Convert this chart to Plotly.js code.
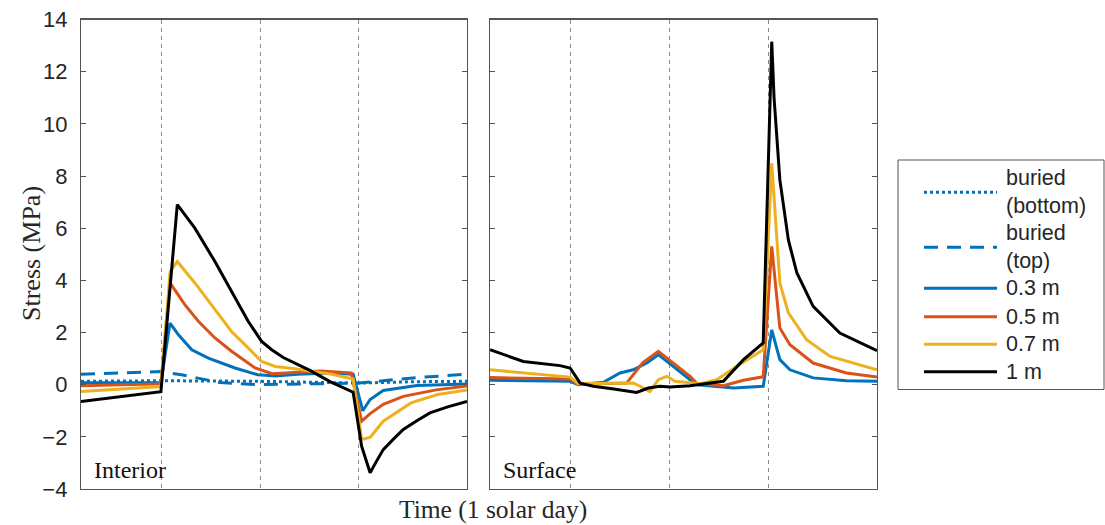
<!DOCTYPE html>
<html>
<head>
<meta charset="utf-8">
<script src="https://cdn.plot.ly/plotly-3.0.1.min.js"></script>
<style>
  html, body { margin: 0; padding: 0; background: #fff; }
  #chart { width: 1105px; height: 525px; }
</style>
</head>
<body>
<div id="chart"></div>
<script>
// Time is expressed as a fraction of one solar day.
const markerTimes = [0.209, 0.464, 0.719];
const stressTicks = [-4, -2, 0, 2, 4, 6, 8, 10, 12, 14];

// ---- Interior ----
const intBottomT = [0, 0.207, 0.46, 0.60, 0.72, 0.85, 1.0];
const intBottomS = [0.13, 0.15, 0.13, 0.10, 0.06, 0.11, 0.13];

const intTopT = [0, 0.207, 0.26, 0.36, 0.46, 0.60, 0.72, 0.86, 1.0];
const intTopS = [0.40, 0.50, 0.38, 0.08, 0.0, 0.02, 0.06, 0.26, 0.40];

const int03T = [0, 0.104, 0.207, 0.2306, 0.252, 0.287, 0.330, 0.399, 0.458, 0.505, 0.56, 0.65, 0.705, 0.730, 0.749, 0.783, 0.87, 1.0];
const int03S = [0.07, 0.07, 0.08, 2.36, 1.92, 1.34, 1.02, 0.64, 0.38, 0.33, 0.40, 0.45, 0.40, -1.0, -0.57, -0.22, -0.03, 0.03];

const int05T = [0, 0.104, 0.207, 0.2306, 0.269, 0.304, 0.347, 0.390, 0.451, 0.495, 0.55, 0.62, 0.700, 0.727, 0.75, 0.783, 0.835, 0.92, 1.0];
const int05S = [-0.04, 0.0, 0.03, 3.9, 3.07, 2.43, 1.79, 1.28, 0.64, 0.42, 0.46, 0.52, 0.45, -1.4, -1.1, -0.75, -0.45, -0.2, -0.05];

const int07T = [0, 0.104, 0.207, 0.231, 0.2495, 0.295, 0.347, 0.390, 0.433, 0.468, 0.503, 0.554, 0.65, 0.705, 0.727, 0.749, 0.783, 0.855, 0.924, 1.0];
const int07S = [-0.26, -0.16, -0.07, 4.34, 4.72, 3.9, 2.87, 2.04, 1.41, 0.89, 0.70, 0.61, 0.40, 0.22, -2.1, -2.02, -1.4, -0.7, -0.38, -0.2];

const int1T = [0, 0.104, 0.207, 0.2495, 0.295, 0.347, 0.390, 0.433, 0.468, 0.494, 0.524, 0.554, 0.593, 0.645, 0.705, 0.727, 0.749, 0.765, 0.783, 0.81, 0.835, 0.87, 0.904, 0.95, 1.0];
const int1S = [-0.65, -0.46, -0.27, 6.9, 6.0, 4.72, 3.57, 2.43, 1.66, 1.34, 1.04, 0.83, 0.55, 0.12, -0.29, -2.36, -3.38, -2.95, -2.49, -2.08, -1.72, -1.38, -1.08, -0.85, -0.64];

// ---- Surface ----
const srf03T = [0, 0.207, 0.228, 0.293, 0.336, 0.370, 0.405, 0.435, 0.517, 0.535, 0.63, 0.706, 0.728, 0.749, 0.775, 0.835, 0.921, 1.0];
const srf03S = [0.17, 0.13, 0.0, 0.09, 0.45, 0.57, 0.83, 1.15, 0.19, 0.0, -0.13, -0.06, 2.1, 0.96, 0.57, 0.26, 0.15, 0.13];

const srf05T = [0, 0.207, 0.228, 0.353, 0.395, 0.435, 0.517, 0.535, 0.603, 0.655, 0.706, 0.728, 0.749, 0.775, 0.835, 0.921, 1.0];
const srf05S = [0.27, 0.22, 0.02, 0.06, 0.85, 1.28, 0.32, 0.04, -0.04, 0.17, 0.3, 5.3, 2.17, 1.53, 0.83, 0.45, 0.29];

const srf07T = [0, 0.207, 0.228, 0.370, 0.388, 0.413, 0.435, 0.457, 0.478, 0.543, 0.586, 0.637, 0.706, 0.728, 0.749, 0.771, 0.818, 0.879, 1.0];
const srf07S = [0.57, 0.29, 0.04, 0.06, -0.06, -0.26, 0.19, 0.32, 0.13, 0.04, 0.19, 0.7, 1.34, 8.49, 3.9, 2.75, 1.72, 1.08, 0.57];

const srf1T = [0, 0.086, 0.181, 0.207, 0.233, 0.267, 0.32, 0.379, 0.409, 0.439, 0.465, 0.517, 0.603, 0.655, 0.706, 0.728, 0.734, 0.749, 0.771, 0.793, 0.835, 0.904, 1.0];
const srf1S = [1.34, 0.89, 0.73, 0.64, 0.06, -0.06, -0.17, -0.3, -0.13, -0.06, -0.09, -0.04, 0.13, 0.96, 1.6, 13.15, 11.0, 7.85, 5.55, 4.28, 3.0, 1.98, 1.3];

const seriesNames = ['buried<br>(bottom)', 'buried<br>(top)', '0.3 m', '0.5 m', '0.7 m', '1 m'];
const seriesColors = ['#0072BD', '#0072BD', '#0072BD', '#D95319', '#EDB120', '#000000'];
const seriesDash = ['3px,3px', '14px,9px', 'solid', 'solid', 'solid', 'solid'];

const W = 1105, H = 525;
const LW = 3;

function line(x, y, idx, panel) {
  return {
    x: x, y: y, type: 'scatter', mode: 'lines',
    name: seriesNames[idx].replace('<br>', ' '), showlegend: false,
    xaxis: panel === 2 ? 'x2' : 'x', yaxis: panel === 2 ? 'y2' : 'y',
    line: { color: seriesColors[idx], width: LW, dash: seriesDash[idx] },
    hoverinfo: 'skip'
  };
}

const traces = [
  line(intBottomT, intBottomS, 0, 1),
  line(intTopT, intTopS, 1, 1),
  line(int03T, int03S, 2, 1),
  line(int05T, int05S, 3, 1),
  line(int07T, int07S, 4, 1),
  line(int1T, int1S, 5, 1),
  line(srf03T, srf03S, 2, 2),
  line(srf05T, srf05S, 3, 2),
  line(srf07T, srf07S, 4, 2),
  line(srf1T, srf1S, 5, 2)
];

const frame = '#555555';
const serif = 'Liberation Serif, Times New Roman, serif';
const sans = 'Liberation Sans, Arial, Helvetica, sans-serif';

const xCommon = {
  range: [0, 1], tickvals: markerTimes, showticklabels: false, ticks: '',
  showgrid: true, gridcolor: '#8a8a8a', griddash: '4px,4px', gridwidth: 1,
  showline: true, linecolor: frame, linewidth: 1.2, mirror: true, zeroline: false
};
const yCommon = {
  range: [-4, 14], tickvals: stressTicks, ticks: 'inside', ticklen: 5, tickcolor: frame,
  showgrid: false, zeroline: false, showline: true, linecolor: frame, linewidth: 1.2,
  mirror: 'ticks'
};
const yDomain = [1 - 489 / H, 1 - 19.5 / H];

// Legend box, drawn with paper-referenced shapes and text
const legendX0 = 898, legendX1 = 1104, legendY0 = 160, legendY1 = 389.5;
const sampleX0 = 924, sampleX1 = 997, labelX = 1004;
const rowY = [192.3, 247.3, 288.3, 316.7, 344.2, 371.7];

const shapes = [{
  type: 'rect', xref: 'paper', yref: 'paper',
  x0: legendX0 / W, x1: legendX1 / W, y0: 1 - legendY1 / H, y1: 1 - legendY0 / H,
  line: { color: frame, width: 1 }, fillcolor: '#fff'
}];
const annotations = [
  { text: 'Stress (MPa)', xref: 'paper', yref: 'paper', x: 31 / W, y: 1 - 254 / H,
    xanchor: 'center', yanchor: 'middle', textangle: -90, showarrow: false,
    font: { family: serif, size: 26, color: '#262626' } },
  { text: 'Time (1 solar day)', xref: 'paper', yref: 'paper', x: 493 / W, y: 1 - 509 / H,
    xanchor: 'center', yanchor: 'middle', showarrow: false, borderpad: 0,
    font: { family: serif, size: 25.5, color: '#262626' } },
  { text: 'Interior', xref: 'paper', yref: 'paper', x: 92 / W, y: 1 - 470 / H,
    xanchor: 'left', yanchor: 'middle', showarrow: false,
    font: { family: serif, size: 24, color: '#111' } },
  { text: 'Surface', xref: 'paper', yref: 'paper', x: 501 / W, y: 1 - 470 / H,
    xanchor: 'left', yanchor: 'middle', showarrow: false,
    font: { family: serif, size: 24, color: '#111' } }
];
seriesNames.forEach(function (name, i) {
  shapes.push({
    type: 'line', xref: 'paper', yref: 'paper',
    x0: sampleX0 / W, x1: sampleX1 / W, y0: 1 - rowY[i] / H, y1: 1 - rowY[i] / H,
    line: { color: seriesColors[i], width: LW, dash: seriesDash[i] }
  });
  annotations.push({
    text: name, xref: 'paper', yref: 'paper', x: labelX / W, y: 1 - rowY[i] / H,
    xanchor: 'left', yanchor: 'middle', align: 'left', showarrow: false,
    font: { family: sans, size: 21.5, color: '#262626' }
  });
});

const layout = {
  width: W, height: H,
  margin: { l: 0, r: 0, t: 0, b: 0 },
  paper_bgcolor: '#fff', plot_bgcolor: '#fff',
  font: { family: sans, color: '#262626' },
  xaxis: Object.assign({}, xCommon, { domain: [81 / W, 467 / W], anchor: 'y' }),
  xaxis2: Object.assign({}, xCommon, { domain: [490 / W, 877 / W], anchor: 'y2' }),
  yaxis: Object.assign({}, yCommon, {
    domain: yDomain, anchor: 'x',
    tickfont: { family: sans, size: 22, color: '#262626' }, ticklabelstandoff: 8
  }),
  yaxis2: Object.assign({}, yCommon, { domain: yDomain, anchor: 'x2', showticklabels: false, matches: 'y' }),
  shapes: shapes,
  annotations: annotations,
  showlegend: false
};

Plotly.newPlot('chart', traces, layout, { displayModeBar: false, staticPlot: true });
</script>
</body>
</html>
